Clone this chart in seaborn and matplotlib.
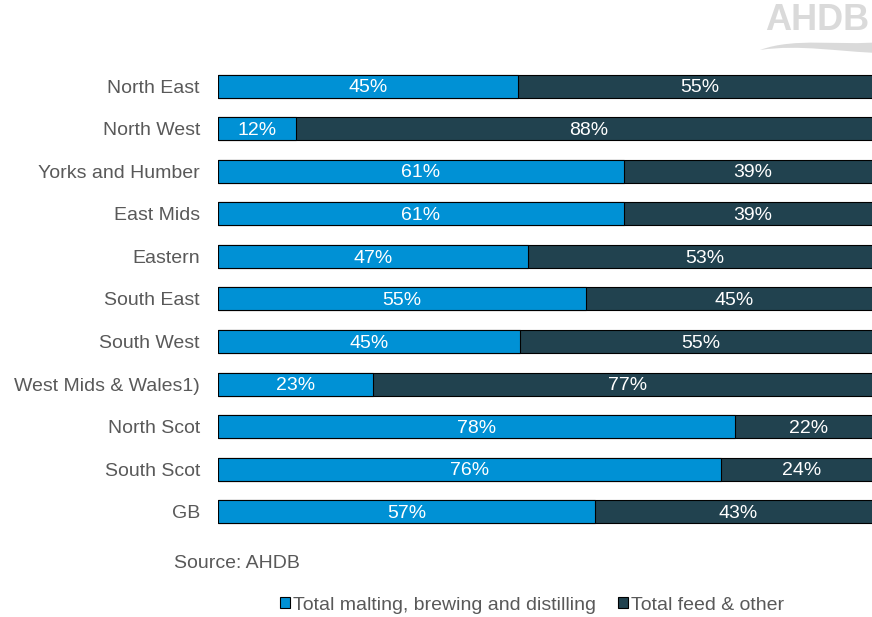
import matplotlib
matplotlib.use("Agg")
import matplotlib.pyplot as plt
import seaborn as sns
import pandas as pd
import numpy as np
from matplotlib.patches import Patch, PathPatch
from matplotlib.path import Path

regions = ["North East", "North West", "Yorks and Humber", "East Mids", "Eastern",
           "South East", "South West", "West Mids & Wales1)", "North Scot", "South Scot", "GB"]
malting = [45.2, 11.8, 61.2, 61.2, 46.8, 55.5, 45.6, 23.4, 78.0, 75.9, 56.9]
feed = [54.8, 88.2, 38.8, 38.8, 53.2, 44.5, 54.4, 76.6, 22.0, 24.1, 43.1]
malting_labels = ["45%", "12%", "61%", "61%", "47%", "55%", "45%", "23%", "78%", "76%", "57%"]
feed_labels = ["55%", "88%", "39%", "39%", "53%", "45%", "55%", "77%", "22%", "24%", "43%"]
series_names = ["Total malting, brewing and distilling", "Total feed & other"]
source_text = "Source: AHDB"

c_blue = "#0091d5"
c_dark = "#21424f"
c_text = "#595959"
c_logo = "#dadada"

sns.set_theme(style="white")
plt.rcParams['font.family'] = ['Liberation Sans', 'DejaVu Sans']

df = pd.DataFrame({"region": regions, "malting": malting, "feed": feed})
df["total"] = df["malting"] + df["feed"]

W, H = 872, 617
fig = plt.figure(figsize=(8.72, 6.17), dpi=100)
ax = fig.add_axes([218/W, 0.136, 1 - 218/W, 0.895 - 0.136])

sns.barplot(data=df, y="region", x="total", color=c_dark, orient="h", ax=ax,
            width=0.54, edgecolor="black", linewidth=0.8, saturation=1)
sns.barplot(data=df, y="region", x="malting", color=c_blue, orient="h", ax=ax,
            width=0.54, edgecolor="black", linewidth=0.8, saturation=1)

for i, (m, f) in enumerate(zip(malting, feed)):
    ax.text(m / 2, i + 0.04, malting_labels[i], color="white", ha="center", va="center", fontsize=14)
    ax.text(m + f / 2, i + 0.04, feed_labels[i], color="white", ha="center", va="center", fontsize=14)

ax.set_xlim(0, 98.6)
ax.set_ylim(len(regions) - 0.5, -0.5)
ax.set_xlabel("")
ax.set_ylabel("")
ax.set_xticks([])
for s in ax.spines.values():
    s.set_visible(False)
ax.tick_params(axis="y", length=0, labelsize=14, labelcolor=c_text, pad=13)

fig.text(174/W, 1 - 563/H, source_text, fontsize=14, color=c_text, va="center", ha="left")

handles = [Patch(facecolor=c_blue, edgecolor="black", linewidth=0.8),
           Patch(facecolor=c_dark, edgecolor="black", linewidth=0.8)]
fig.legend(handles, series_names, loc="center", bbox_to_anchor=(532/W, 1 - 605/H),
           ncol=2, frameon=False, fontsize=14, handlelength=0.55, handleheight=0.55,
           handletextpad=0.15, columnspacing=1.1, labelcolor=c_text)

# logo (cropped at the right edge, as in the reference)
fig.text(765/W, 1 - 21/H, "AHDB", fontsize=26, fontweight="bold", color=c_logo,
         ha="left", va="center")
pts = [(760, 50), (795, 37), (840, 46), (880, 42),
       (880, 53), (840, 52), (800, 44), (760, 50)]
verts = [(x / W, 1 - y / H) for x, y in pts]
codes = [Path.MOVETO, Path.CURVE4, Path.CURVE4, Path.CURVE4,
         Path.LINETO, Path.CURVE4, Path.CURVE4, Path.CURVE4]
fig.patches.append(PathPatch(Path(verts, codes), facecolor=c_logo, edgecolor="none",
                             transform=fig.transFigure))

fig.savefig("out.png", dpi=100)
